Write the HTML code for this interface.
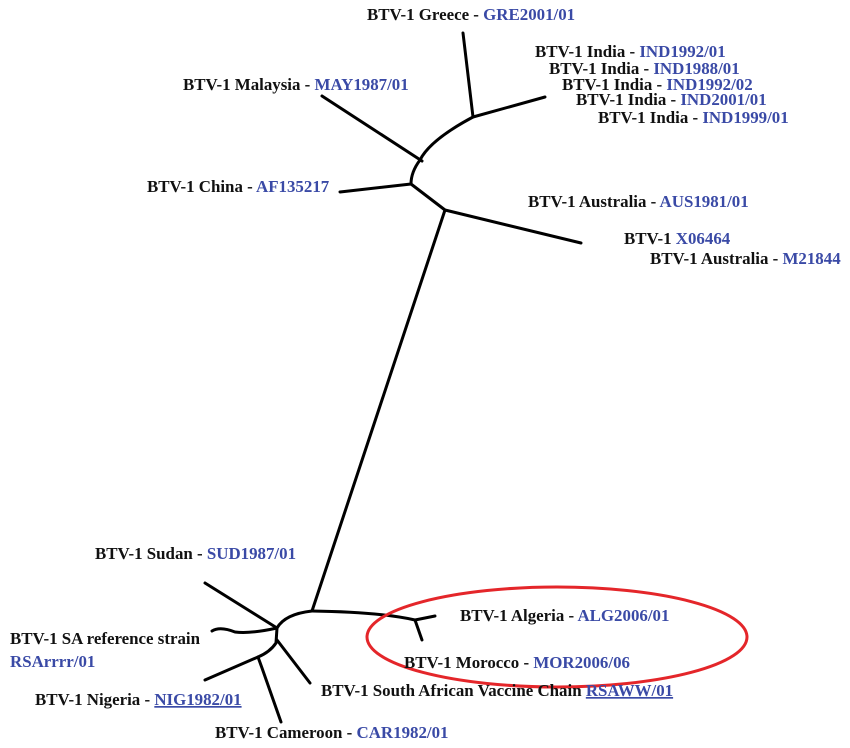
<!DOCTYPE html>
<html><head><meta charset="utf-8"><style>
body{margin:0;background:#fff}
svg text{font-family:"Liberation Serif",serif;font-weight:bold;font-size:16.9px;fill:#111}
.b{fill:#3a4aa6}
</style></head><body>
<svg width="850" height="743" viewBox="0 0 850 743" xmlns="http://www.w3.org/2000/svg">
<g fill="none" stroke="#000" stroke-width="3" stroke-linecap="round" stroke-linejoin="round">
<path d="M463 33 L473 117"/>
<path d="M473 117 L545 97"/>
<path d="M473 117 Q430 140 420 160 Q411 172 411 184"/>
<path d="M322 96 L422 161"/>
<path d="M340 192 L411 184 L445 210 L581 243"/>
<path d="M445 210 L312 611"/>
<path d="M312 611 Q380 612 415 620 L435 616"/>
<path d="M415 620 L422 640"/>
<path d="M312 611 Q285 614 277 628"/>
<path d="M205 583 L277 628"/>
<path d="M212 631 Q220 626 235 632 Q250 634 277 628"/>
<path d="M277 628 L276 643 Q270 652 258 657"/>
<path d="M205 680 L258 657"/>
<path d="M258 657 L262 668 L281 722"/>
<path d="M277 640 L310 683"/>
</g>
<ellipse cx="557" cy="637" rx="190" ry="50" fill="none" stroke="#e4262a" stroke-width="3"/>
<text x="367" y="20">BTV-1 Greece - <tspan class="b">GRE2001/01</tspan></text>
<text x="535" y="57">BTV-1 India - <tspan class="b">IND1992/01</tspan></text>
<text x="549" y="74">BTV-1 India - <tspan class="b">IND1988/01</tspan></text>
<text x="562" y="90">BTV-1 India - <tspan class="b">IND1992/02</tspan></text>
<text x="576" y="105">BTV-1 India - <tspan class="b">IND2001/01</tspan></text>
<text x="598" y="123">BTV-1 India - <tspan class="b">IND1999/01</tspan></text>
<text x="183" y="90">BTV-1 Malaysia - <tspan class="b">MAY1987/01</tspan></text>
<text x="147" y="192">BTV-1 China - <tspan class="b">AF135217</tspan></text>
<text x="528" y="207">BTV-1 Australia - <tspan class="b">AUS1981/01</tspan></text>
<text x="624" y="244">BTV-1 <tspan class="b">X06464</tspan></text>
<text x="650" y="264">BTV-1 Australia - <tspan class="b">M21844</tspan></text>
<text x="95" y="559">BTV-1 Sudan - <tspan class="b">SUD1987/01</tspan></text>
<text x="460" y="621">BTV-1 Algeria - <tspan class="b">ALG2006/01</tspan></text>
<text x="10" y="644">BTV-1 SA reference strain</text>
<text x="10" y="667" class="b">RSArrrr/01</text>
<text x="404" y="668">BTV-1 Morocco - <tspan class="b">MOR2006/06</tspan></text>
<text x="321" y="696">BTV-1 South African  Vaccine Chain <tspan class="b" text-decoration="underline">RSAWW/01</tspan></text>
<text x="35" y="705">BTV-1 Nigeria - <tspan class="b" text-decoration="underline">NIG1982/01</tspan></text>
<text x="215" y="738">BTV-1 Cameroon - <tspan class="b">CAR1982/01</tspan></text>
</svg>
</body></html>
